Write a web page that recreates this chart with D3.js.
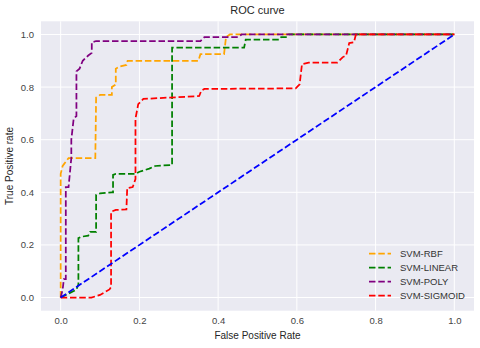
<!DOCTYPE html>
<html><head><meta charset="utf-8">
<script src="https://cdn.jsdelivr.net/npm/d3@7"></script>
<style>body{margin:0;background:#fff}svg{display:block}text{font-family:"Liberation Sans",Arial,sans-serif}</style>
</head><body><svg id="c" width="480" height="348"></svg>
<script>
const xTicks = [0, 0.2, 0.4, 0.6, 0.8, 1.0];
const yTicks = [0, 0.2, 0.4, 0.6, 0.8, 1.0];
const seriesNames = ["SVM-RBF", "SVM-LINEAR", "SVM-POLY", "SVM-SIGMOID"];
const seriesColors = ["orange", "green", "purple", "red"];
const rbf = [[0,0],[0,0.47],[0.005,0.5],[0.015,0.52],[0.02,0.53],[0.088,0.53],[0.09,0.76],[0.1,0.77],[0.13,0.77],[0.13,0.8],[0.14,0.81],[0.14,0.87],[0.15,0.878],[0.167,0.884],[0.17,0.9],[0.35,0.9],[0.355,0.925],[0.415,0.925],[0.42,0.99],[0.43,1],[1,1]];
const linear = [[0,0],[0.04,0.03],[0.045,0.05],[0.045,0.226],[0.052,0.231],[0.07,0.235],[0.075,0.25],[0.09,0.25],[0.09,0.39],[0.1,0.396],[0.13,0.4],[0.133,0.4],[0.133,0.466],[0.14,0.47],[0.19,0.47],[0.2,0.478],[0.225,0.49],[0.24,0.5],[0.283,0.504],[0.283,0.95],[0.466,0.95],[0.47,0.98],[0.555,0.98],[0.56,0.99],[0.575,0.99],[0.58,1],[1,1]];
const poly = [[0,0],[0.005,0.03],[0.008,0.07],[0.013,0.07],[0.013,0.42],[0.02,0.42],[0.027,0.53],[0.027,0.6],[0.033,0.68],[0.04,0.69],[0.04,0.86],[0.048,0.87],[0.056,0.9],[0.07,0.92],[0.079,0.93],[0.079,0.97],[0.09,0.975],[0.355,0.975],[0.365,0.99],[0.45,0.99],[0.46,1],[1,1]];
const sigmoid = [[0,0],[0.078,0],[0.1,0.01],[0.124,0.031],[0.128,0.04],[0.128,0.326],[0.14,0.333],[0.167,0.335],[0.169,0.416],[0.183,0.42],[0.19,0.45],[0.19,0.68],[0.197,0.735],[0.21,0.755],[0.276,0.76],[0.352,0.766],[0.357,0.786],[0.365,0.793],[0.597,0.795],[0.607,0.81],[0.613,0.887],[0.63,0.893],[0.703,0.893],[0.716,0.913],[0.725,0.92],[0.733,0.967],[0.745,0.97],[0.75,1],[1,1]];
const diagonal = [[0,0],[1,1]];
const seriesData = [rbf, linear, poly, sigmoid];

const svg = d3.select("#c");
const L = 41, R = 474, T = 21.3, B = 310.7;
const x = d3.scaleLinear().domain([-0.05, 1.05]).range([L, R]);
const y = d3.scaleLinear().domain([-0.05, 1.05]).range([B, T]);

svg.append("rect").attr("x", L).attr("y", T).attr("width", R - L).attr("height", B - T).attr("fill", "#EAEAF2");

const gx = svg.append("g").attr("transform", `translate(0,${B})`)
  .call(d3.axisBottom(x).tickValues(xTicks).tickFormat(d3.format(".1f")).tickSize(0).tickPadding(7));
gx.select(".domain").remove();
gx.selectAll("text").attr("font-size", 9.5).attr("fill", "#444").style("font-family", "'Liberation Sans',Arial,sans-serif");
const gy = svg.append("g").attr("transform", `translate(${L},0)`)
  .call(d3.axisLeft(y).tickValues(yTicks).tickFormat(d3.format(".1f")).tickSize(0).tickPadding(7));
gy.select(".domain").remove();
gy.selectAll("text").attr("font-size", 9.5).attr("fill", "#444").style("font-family", "'Liberation Sans',Arial,sans-serif");

svg.append("g").selectAll("line.gx").data(xTicks).join("line")
  .attr("x1", d => x(d)).attr("x2", d => x(d)).attr("y1", T).attr("y2", B)
  .attr("stroke", "#fff").attr("stroke-width", 1);
svg.append("g").selectAll("line.gy").data(yTicks).join("line")
  .attr("y1", d => y(d)).attr("y2", d => y(d)).attr("x1", L).attr("x2", R)
  .attr("stroke", "#fff").attr("stroke-width", 1);

const line = d3.line().x(d => x(d[0])).y(d => y(d[1]));
const plot = svg.append("g");
seriesData.forEach((s, i) => {
  plot.append("path").attr("d", line(s)).attr("fill", "none")
    .attr("stroke", seriesColors[i]).attr("stroke-width", 1.75)
    .attr("stroke-dasharray", "6.5,2.8");
});
plot.append("path").attr("d", line(diagonal)).attr("fill", "none")
  .attr("stroke", "blue").attr("stroke-width", 1.75).attr("stroke-dasharray", "6.5,2.8");

svg.append("text").attr("x", (L + R) / 2).attr("y", 14).attr("text-anchor", "middle")
  .attr("font-size", 11).attr("fill", "#262626").text("ROC curve");
svg.append("text").attr("x", (L + R) / 2).attr("y", 339).attr("text-anchor", "middle")
  .attr("font-size", 10).attr("fill", "#262626").text("False Positive Rate");
svg.append("text").attr("transform", `translate(13,${(T + B) / 2}) rotate(-90)`).attr("text-anchor", "middle")
  .attr("font-size", 10).attr("fill", "#262626").text("True Positive rate");

const lg = svg.append("g");
seriesNames.forEach((n, i) => {
  const yy = 253.5 + i * 14;
  lg.append("line").attr("x1", 369).attr("x2", 391).attr("y1", yy).attr("y2", yy)
    .attr("stroke", seriesColors[i]).attr("stroke-width", 1.75).attr("stroke-dasharray", "6.5,2.8");
  lg.append("text").attr("x", 400).attr("y", yy + 3.5).attr("font-size", 9.5).attr("fill", "#333").text(n);
});
</script></body></html>
